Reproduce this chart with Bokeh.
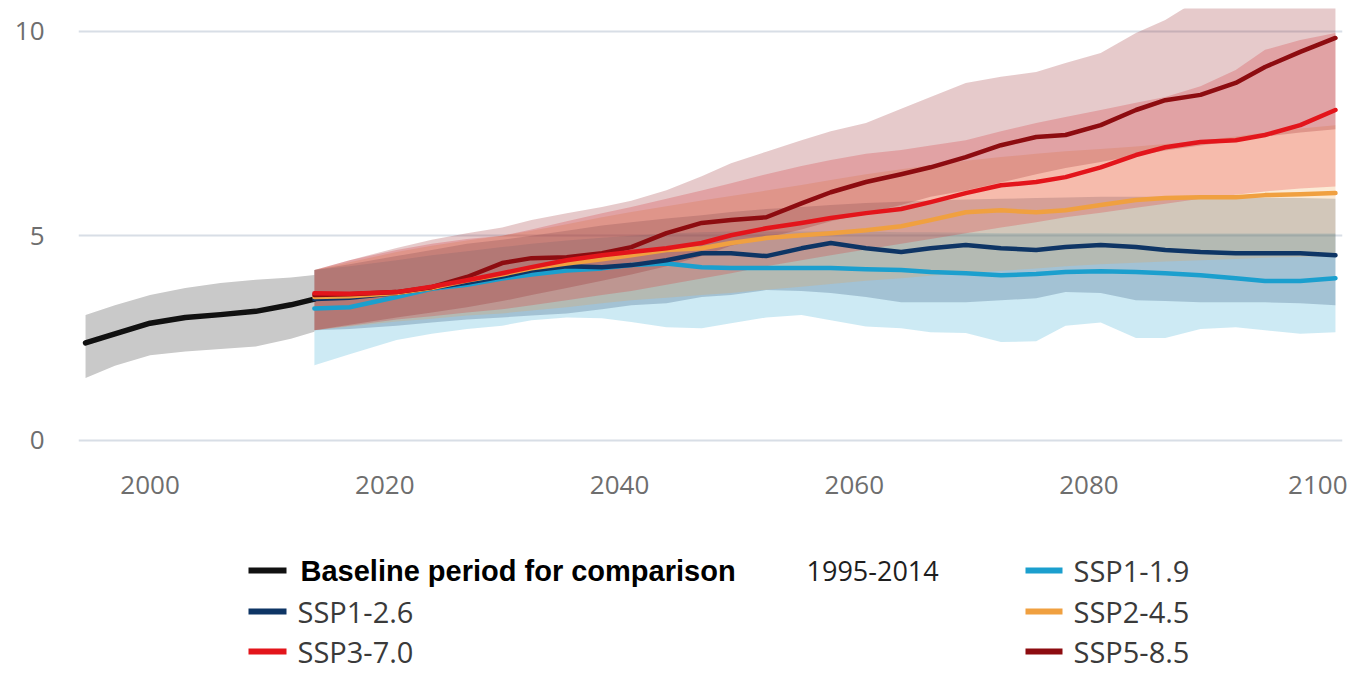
from bokeh.plotting import figure
from bokeh.layouts import column
from bokeh.models import Range1d, FixedTicker
from bokeh.core.properties import value
from bokeh.embed import file_html
from bokeh.resources import INLINE

# ---------------- data ----------------
# Baseline period 1995-2014: central estimate and spread
base_years = [1994.5, 1997, 2000, 2003, 2006, 2009, 2012, 2014]
base_mean = [2.38, 2.60, 2.86, 3.00, 3.07, 3.15, 3.31, 3.45]
base_lo = [1.52, 1.82, 2.08, 2.17, 2.23, 2.29, 2.48, 2.65]
base_hi = [3.06, 3.30, 3.55, 3.72, 3.84, 3.92, 3.98, 4.04]

# Scenario projections
proj_years = [2014, 2017, 2021, 2024, 2027, 2030, 2032.5, 2035.5, 2038.5, 2041,
              2044, 2047, 2049.5, 2052.5, 2055.5, 2058, 2061, 2064, 2066.5, 2069.5,
              2072.5, 2075.5, 2078, 2081, 2084, 2086.5, 2089.5, 2092.5, 2095, 2098, 2101]

ssp119 = [3.22, 3.25, 3.50, 3.70, 3.80, 3.95, 4.05, 4.15, 4.20, 4.28, 4.32, 4.23, 4.21, 4.21, 4.21, 4.21,
          4.18, 4.16, 4.11, 4.08, 4.03, 4.06, 4.11, 4.13, 4.11, 4.08, 4.03, 3.96, 3.89, 3.89, 3.96]
ssp119_lo = [1.83, 2.10, 2.45, 2.60, 2.72, 2.80, 2.93, 3.00, 2.98, 2.89, 2.76, 2.74, 2.86, 3.00, 3.06, 2.93,
             2.78, 2.74, 2.64, 2.62, 2.40, 2.42, 2.80, 2.88, 2.50, 2.50, 2.72, 2.76, 2.69, 2.60, 2.64]
ssp119_hi = [4.16, 4.25, 4.40, 4.52, 4.62, 4.72, 4.80, 4.88, 4.95, 5.00, 5.05, 5.08, 5.10, 5.10, 5.10, 5.10,
             5.10, 5.08, 5.08, 5.07, 5.06, 5.06, 5.06, 5.06, 5.05, 5.05, 5.05, 5.05, 5.05, 5.05, 5.05]

ssp126 = [3.45, 3.48, 3.60, 3.72, 3.85, 4.00, 4.15, 4.25, 4.23, 4.28, 4.40, 4.57, 4.57, 4.50, 4.69, 4.82,
          4.69, 4.60, 4.69, 4.77, 4.69, 4.65, 4.72, 4.77, 4.72, 4.65, 4.60, 4.57, 4.57, 4.57, 4.52]
ssp126_lo = [2.69, 2.72, 2.80, 2.88, 2.95, 3.00, 3.05, 3.10, 3.20, 3.30, 3.35, 3.50, 3.55, 3.67, 3.65, 3.60,
             3.50, 3.37, 3.37, 3.37, 3.42, 3.47, 3.62, 3.60, 3.42, 3.40, 3.37, 3.37, 3.37, 3.35, 3.30]
ssp126_hi = [4.16, 4.30, 4.50, 4.65, 4.80, 4.90, 5.00, 5.12, 5.25, 5.33, 5.42, 5.50, 5.58, 5.65, 5.70, 5.75,
             5.80, 5.83, 5.86, 5.88, 5.90, 5.92, 5.93, 5.95, 5.95, 5.95, 5.95, 5.95, 5.93, 5.92, 5.90]

ssp245 = [3.50, 3.52, 3.60, 3.72, 3.90, 4.05, 4.20, 4.32, 4.42, 4.52, 4.65, 4.69, 4.82, 4.94, 5.01, 5.06,
          5.13, 5.23, 5.38, 5.57, 5.62, 5.57, 5.62, 5.75, 5.87, 5.92, 5.94, 5.94, 5.99, 6.01, 6.04]
ssp245_lo = [2.69, 2.78, 2.90, 2.97, 3.05, 3.10, 3.17, 3.25, 3.35, 3.42, 3.48, 3.55, 3.60, 3.68, 3.75, 3.82,
             3.90, 3.96, 4.02, 4.08, 4.14, 4.20, 4.25, 4.30, 4.34, 4.37, 4.40, 4.43, 4.46, 4.48, 4.50]
ssp245_hi = [4.16, 4.35, 4.60, 4.75, 4.88, 5.00, 5.12, 5.28, 5.45, 5.58, 5.72, 5.86, 5.97, 6.10, 6.24, 6.36,
             6.50, 6.62, 6.72, 6.83, 6.92, 7.00, 7.06, 7.12, 7.18, 7.24, 7.32, 7.42, 7.52, 7.62, 7.70]

ssp370 = [3.59, 3.58, 3.62, 3.75, 3.91, 4.08, 4.23, 4.40, 4.52, 4.60, 4.69, 4.82, 5.01, 5.18, 5.31, 5.43,
          5.55, 5.65, 5.82, 6.04, 6.23, 6.31, 6.43, 6.67, 6.97, 7.16, 7.29, 7.33, 7.46, 7.70, 8.07]
ssp370_lo = [2.69, 2.80, 2.95, 3.03, 3.12, 3.20, 3.30, 3.42, 3.55, 3.65, 3.80, 3.95, 4.08, 4.25, 4.40, 4.52,
             4.66, 4.80, 4.92, 5.06, 5.20, 5.33, 5.45, 5.56, 5.68, 5.78, 5.90, 6.00, 6.08, 6.15, 6.20]
ssp370_hi = [4.16, 4.40, 4.65, 4.80, 4.92, 5.00, 5.15, 5.35, 5.55, 5.70, 5.90, 6.10, 6.28, 6.50, 6.70, 6.85,
             7.00, 7.09, 7.20, 7.33, 7.55, 7.75, 7.90, 8.07, 8.25, 8.39, 8.65, 9.05, 9.54, 9.78, 9.95]

ssp585 = [3.55, 3.57, 3.62, 3.74, 3.99, 4.33, 4.45, 4.47, 4.57, 4.72, 5.06, 5.31, 5.38, 5.45, 5.79, 6.06,
          6.31, 6.50, 6.67, 6.92, 7.21, 7.41, 7.46, 7.70, 8.07, 8.31, 8.44, 8.73, 9.12, 9.49, 9.83]
ssp585_lo = [2.69, 2.82, 3.00, 3.12, 3.25, 3.40, 3.55, 3.72, 3.90, 4.05, 4.25, 4.50, 4.75, 4.95, 5.15, 5.35,
             5.55, 5.75, 5.95, 6.10, 6.30, 6.50, 6.65, 6.80, 6.95, 7.08, 7.20, 7.32, 7.42, 7.52, 7.60]
ssp585_hi = [4.16, 4.40, 4.70, 4.90, 5.06, 5.20, 5.38, 5.55, 5.70, 5.85, 6.11, 6.45, 6.77, 7.05, 7.33, 7.55,
             7.75, 8.10, 8.39, 8.73, 8.88, 9.00, 9.22, 9.46, 9.95, 10.27, 10.80, 11.20, 11.50, 11.80, 12.00]

x_ticks = [2000, 2020, 2040, 2060, 2080, 2100]
y_ticks = [0, 5, 10]

baseline_label = "Baseline period for comparison"
baseline_period = "1995-2014"
scenario_names = ["SSP1-1.9", "SSP1-2.6", "SSP2-4.5", "SSP3-7.0", "SSP5-8.5"]

# ---------------- styles ----------------
COLORS = {
    "SSP1-1.9": "#1b9fce",
    "SSP1-2.6": "#0e3565",
    "SSP2-4.5": "#f0a040",
    "SSP3-7.0": "#e3151b",
    "SSP5-8.5": "#8d0c10",
}
TICK_FONT = "Open Sans"
LEGEND_FONT = "Open Sans"

scenarios = {
    "SSP1-1.9": (ssp119, ssp119_lo, ssp119_hi),
    "SSP1-2.6": (ssp126, ssp126_lo, ssp126_hi),
    "SSP2-4.5": (ssp245, ssp245_lo, ssp245_hi),
    "SSP3-7.0": (ssp370, ssp370_lo, ssp370_hi),
    "SSP5-8.5": (ssp585, ssp585_lo, ssp585_hi),
}

W = 1347
LEFT, RIGHT = 78, 5          # borders shared by the chart and the legend panel

p = figure(width=W, height=530,
           x_range=Range1d(1993.9, 2101.6), y_range=Range1d(-0.25, 10.55),
           output_backend="svg", toolbar_location=None,
           min_border_left=LEFT, min_border_right=RIGHT, min_border_top=8, min_border_bottom=80)
p.outline_line_color = None
p.xgrid.visible = False
p.ygrid.grid_line_color = "#d8dee6"
p.ygrid.grid_line_width = 2

p.xaxis.ticker = FixedTicker(ticks=x_ticks)
p.yaxis.ticker = FixedTicker(ticks=y_ticks)
for ax in (p.xaxis[0], p.yaxis[0]):
    ax.axis_line_color = None
    ax.major_tick_line_color = None
    ax.minor_tick_line_color = None
    ax.major_tick_out = 0
    ax.major_tick_in = 0
    ax.major_label_text_color = "#6e6e6e"
    ax.major_label_text_font = TICK_FONT
p.xaxis.major_label_text_font_size = "26px"
p.yaxis.major_label_text_font_size = "26px"
p.xaxis.major_label_standoff = 25
p.yaxis.major_label_standoff = 34

# uncertainty ranges: cool scenarios underneath, warm ones on top
p.varea(x=base_years, y1=base_lo, y2=base_hi, fill_color="#c9c9c9", fill_alpha=1.0)
for name in scenario_names:
    mid, lo, hi = scenarios[name]
    p.varea(x=proj_years, y1=lo, y2=hi, fill_color=COLORS[name], fill_alpha=0.22)

# central estimates
p.line(base_years, base_mean, line_color="#111111", line_width=5.5, line_join="round", line_cap="round")
for name in ["SSP1-1.9", "SSP1-2.6", "SSP2-4.5", "SSP5-8.5", "SSP3-7.0"]:
    mid, lo, hi = scenarios[name]
    p.line(proj_years, mid, line_color=COLORS[name], line_width=4.5, line_join="round", line_cap="round")

# ---------------- legend panel ----------------
# the panel shares the chart's side borders, so its x range runs in page pixels
leg = figure(width=W, height=153, x_range=Range1d(LEFT, W - RIGHT), y_range=Range1d(683, 530),
             output_backend="svg", toolbar_location=None,
             min_border_left=LEFT, min_border_right=RIGHT, min_border_top=0, min_border_bottom=0,
             x_axis_type=None, y_axis_type=None)
leg.outline_line_color = None
leg.grid.visible = False

rows = [570, 611, 651]
left_entries = [(baseline_label, "#111111"), ("SSP1-2.6", COLORS["SSP1-2.6"]), ("SSP3-7.0", COLORS["SSP3-7.0"])]
right_entries = [("SSP1-1.9", COLORS["SSP1-1.9"]), ("SSP2-4.5", COLORS["SSP2-4.5"]), ("SSP5-8.5", COLORS["SSP5-8.5"])]

leg.segment(x0=[248] * 3, x1=[286] * 3, y0=rows, y1=rows,
            line_color=[c for _, c in left_entries], line_width=6, line_cap="butt")
leg.segment(x0=[1025] * 3, x1=[1062] * 3, y0=rows, y1=rows,
            line_color=[c for _, c in right_entries], line_width=6, line_cap="butt")

leg.text(x=[300], y=[rows[0]], text=[baseline_label], text_font=value("Liberation Sans"),
         text_font_style="bold", text_font_size="29px", text_baseline="middle", text_color="#000000")
leg.text(x=[806], y=[rows[0]], text=[baseline_period], text_font=value(LEGEND_FONT),
         text_font_size="27px", text_baseline="middle", text_color="#1e1e1e")
leg.text(x=[297, 297], y=rows[1:], text=[t for t, _ in left_entries[1:]], text_font=value(LEGEND_FONT),
         text_font_size="29px", text_baseline="middle", text_color="#3a3a3a")
leg.text(x=[1073] * 3, y=rows, text=[t for t, _ in right_entries], text_font=value(LEGEND_FONT),
         text_font_size="29px", text_baseline="middle", text_color="#3a3a3a")

layout = column(p, leg)
open("out.html", "w").write(file_html(layout, INLINE))
